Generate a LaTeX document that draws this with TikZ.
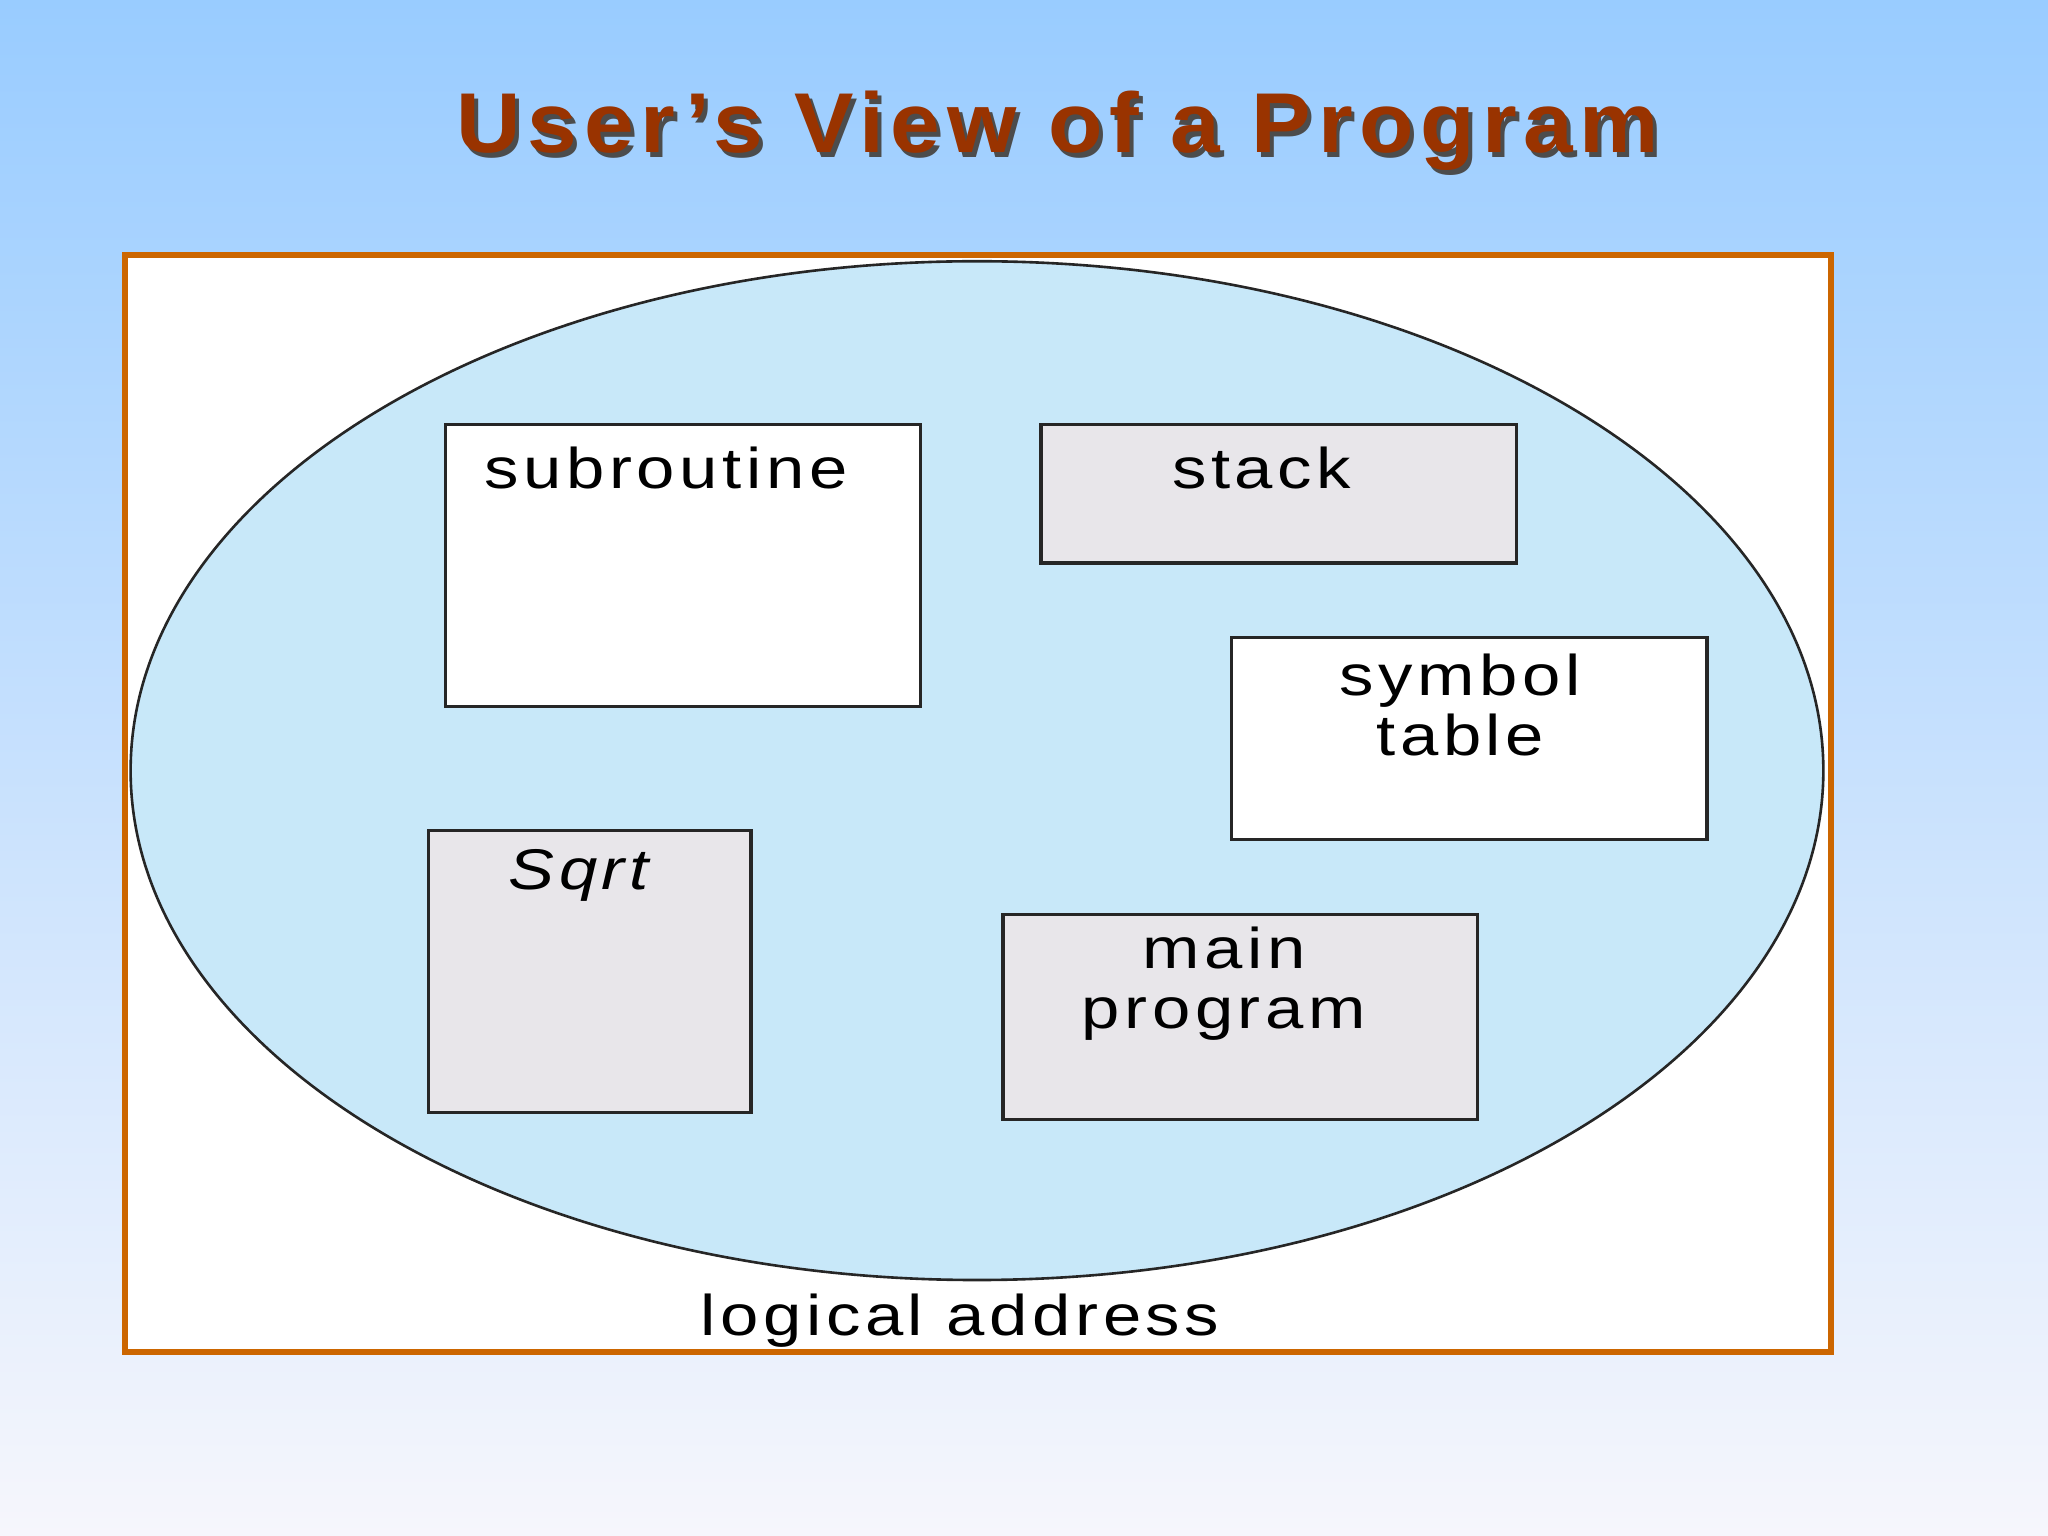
\documentclass[tikz,border=0pt]{standalone}
\usepackage{fontspec}
\setmainfont{Liberation Sans}
\newfontfamily\titlefont[LetterSpace=8,FakeStretch=1.05]{Liberation Sans}
\newfontfamily\lblfont[LetterSpace=8,FakeStretch=1.2]{Liberation Sans}
\begin{document}
\begin{tikzpicture}[x=0.02cm,y=-0.02cm,
  blk/.style={draw=black!85,line width=0.05cm},
  lbl/.style={font=\lblfont\fontsize{25}{28}\selectfont,align=center,inner sep=0pt}]
\useasboundingbox (0,0) rectangle (1568,1176);
\shade[top color={rgb,255:red,153;green,204;blue,255},bottom color={rgb,255:red,246;green,246;blue,252}] (0,0) rectangle (1568,1176);
\node[font=\titlefont\bfseries\fontsize{37}{40}\selectfont,text=black!70] (tsh) at (813,104) {User’s View of a Program};
\node[font=\titlefont\bfseries\fontsize{37}{40}\selectfont,text={rgb,255:red,153;green,51;blue,0}] (title) at (810,100) {User’s View of a Program};
\draw[draw={rgb,255:red,204;green,102;blue,0},fill=white,line width=0.09cm] (96,195) rectangle (1402,1035);
\draw[fill={rgb,255:red,200;green,232;blue,249},draw=black!85,line width=0.04cm] (748,590) ellipse [x radius=648,y radius=390];
\draw[blk,fill=white] (341,325) rectangle (705,541);
\node[lbl] (sub) at (510,358) {subroutine};
\draw[blk,fill={rgb,255:red,232;green,230;blue,234}] (797,325) rectangle (1161,431);
\node[lbl] (stk) at (966,358) {stack};
\draw[blk,fill=white] (943,488) rectangle (1307,643);
\node[lbl] (sym) at (1118,540) {symbol\\[-2pt]table};
\draw[blk,fill={rgb,255:red,232;green,230;blue,234}] (328,636) rectangle (575,852);
\node[lbl,font=\lblfont\itshape\fontsize{25}{28}\selectfont] (sq) at (443,670) {Sqrt};
\draw[blk,fill={rgb,255:red,232;green,230;blue,234}] (768,700) rectangle (1131,857);
\node[lbl] (mp) at (937,753) {main\\[-2pt]program};
\node[lbl] (la) at (735,1011) {logical address};
\end{tikzpicture}
\end{document}
